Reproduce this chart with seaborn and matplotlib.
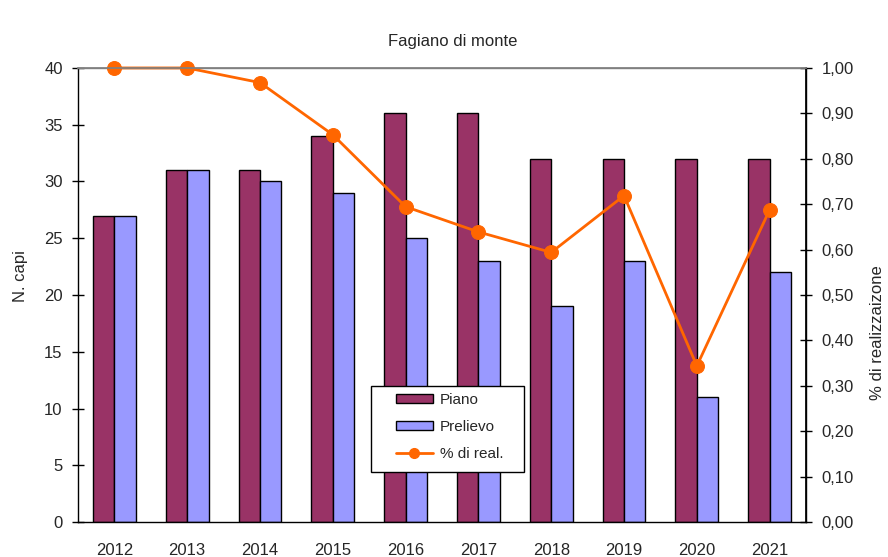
import matplotlib
matplotlib.use("Agg")
import matplotlib.pyplot as plt
import seaborn as sns
import pandas as pd
from matplotlib.patches import Patch, Rectangle
from matplotlib.lines import Line2D
from matplotlib.ticker import FuncFormatter

anni = ["2012", "2013", "2014", "2015", "2016", "2017", "2018", "2019", "2020", "2021"]
piano = [27, 31, 31, 34, 36, 36, 32, 32, 32, 32]
prelievo = [27, 31, 30, 29, 25, 23, 19, 23, 11, 22]
realizzazione = [p / q for p, q in zip(prelievo, piano)]

col_piano = "#993366"
col_prelievo = "#9999FF"
col_real = "#FF6600"

sns.set_theme(style="white")
plt.rcParams["font.family"] = ["Liberation Sans", "DejaVu Sans"]

df = pd.DataFrame({
    "Anno": anni * 2,
    "Capi": piano + prelievo,
    "Serie": ["Piano"] * len(anni) + ["Prelievo"] * len(anni),
})

fig = plt.figure(figsize=(8.88, 5.57), dpi=100)
ax = fig.add_axes([0.0878, 0.0628, 0.8199, 0.8152])

sns.barplot(data=df, x="Anno", y="Capi", hue="Serie",
            palette=[col_piano, col_prelievo], width=0.59,
            edgecolor="black", linewidth=1.0, saturation=1,
            legend=False, ax=ax)

ax.set_xlim(-0.5, len(anni) - 0.5)
ax.set_ylim(0, 40)
ax.set_yticks(range(0, 41, 5))
ax.set_xticks([i - 0.5 for i in range(len(anni) + 1)], minor=False)
ax.set_xticklabels([])
ax.set_xticks(range(len(anni)), minor=True)
ax.set_xticklabels(anni, minor=True)
ax.tick_params(axis="x", which="major", direction="inout", length=8, width=1, color="black")
ax.tick_params(axis="x", which="minor", length=0, labelsize=12, pad=15)
ax.tick_params(axis="y", direction="inout", length=8, width=1, color="black", labelsize=12, pad=7)
ax.set_xlabel("")
ax.set_ylabel("N. capi", fontsize=12)
ax.yaxis.set_label_coords(-0.0687, 0.542)
ax.set_title("Fagiano di monte", fontsize=12, x=0.514, pad=16)

for s in ["left", "bottom", "right"]:
    ax.spines[s].set_color("black")
    ax.spines[s].set_linewidth(1)
ax.spines["top"].set_color("#808080")
ax.spines["top"].set_linewidth(1)

ax2 = ax.twinx()
x_pos = list(range(len(anni)))
sns.lineplot(x=x_pos, y=realizzazione, color=col_real, linewidth=2.0,
             marker="o", markersize=10, markeredgecolor=col_real,
             clip_on=False, ax=ax2)
ax2.set_ylim(0, 1.0)
ax2.set_yticks([i / 10 for i in range(11)])
ax2.yaxis.set_major_formatter(FuncFormatter(lambda v, _: f"{v:.2f}".replace(".", ",")))
ax2.tick_params(axis="y", direction="inout", length=8, width=1, color="black", labelsize=12, pad=7)
ax2.set_ylabel("% di realizzaizone", fontsize=12)
ax2.yaxis.set_label_coords(1.088, 0.418)
ax2.spines["right"].set_color("black")
ax2.spines["top"].set_color("#808080")
ax2.spines["left"].set_visible(False)
ax2.spines["bottom"].set_visible(False)
ax2.set_xlim(-0.5, len(anni) - 0.5)
ax2.grid(False)
ax.grid(False)

# legend box
ax2.add_patch(Rectangle((0.4025, 0.110), 0.210, 0.189, transform=ax2.transAxes,
                        facecolor="white", edgecolor="black", linewidth=1,
                        zorder=6, clip_on=False))
handles = [
    Patch(facecolor=col_piano, edgecolor="black", linewidth=1),
    Patch(facecolor=col_prelievo, edgecolor="black", linewidth=1),
    Line2D([0], [0], color=col_real, linewidth=2.0, marker="o", markersize=7),
]
leg = ax2.legend(handles, ["Piano", "Prelievo", "% di real."],
                 loc="upper left", bbox_to_anchor=(0.4368, 0.285),
                 fontsize=11, frameon=False, borderpad=0, borderaxespad=0,
                 labelspacing=0.85, handlelength=2.4, handleheight=0.5,
                 handletextpad=0.45)
leg.set_zorder(7)

fig.savefig("out.png", dpi=100, facecolor="white")
